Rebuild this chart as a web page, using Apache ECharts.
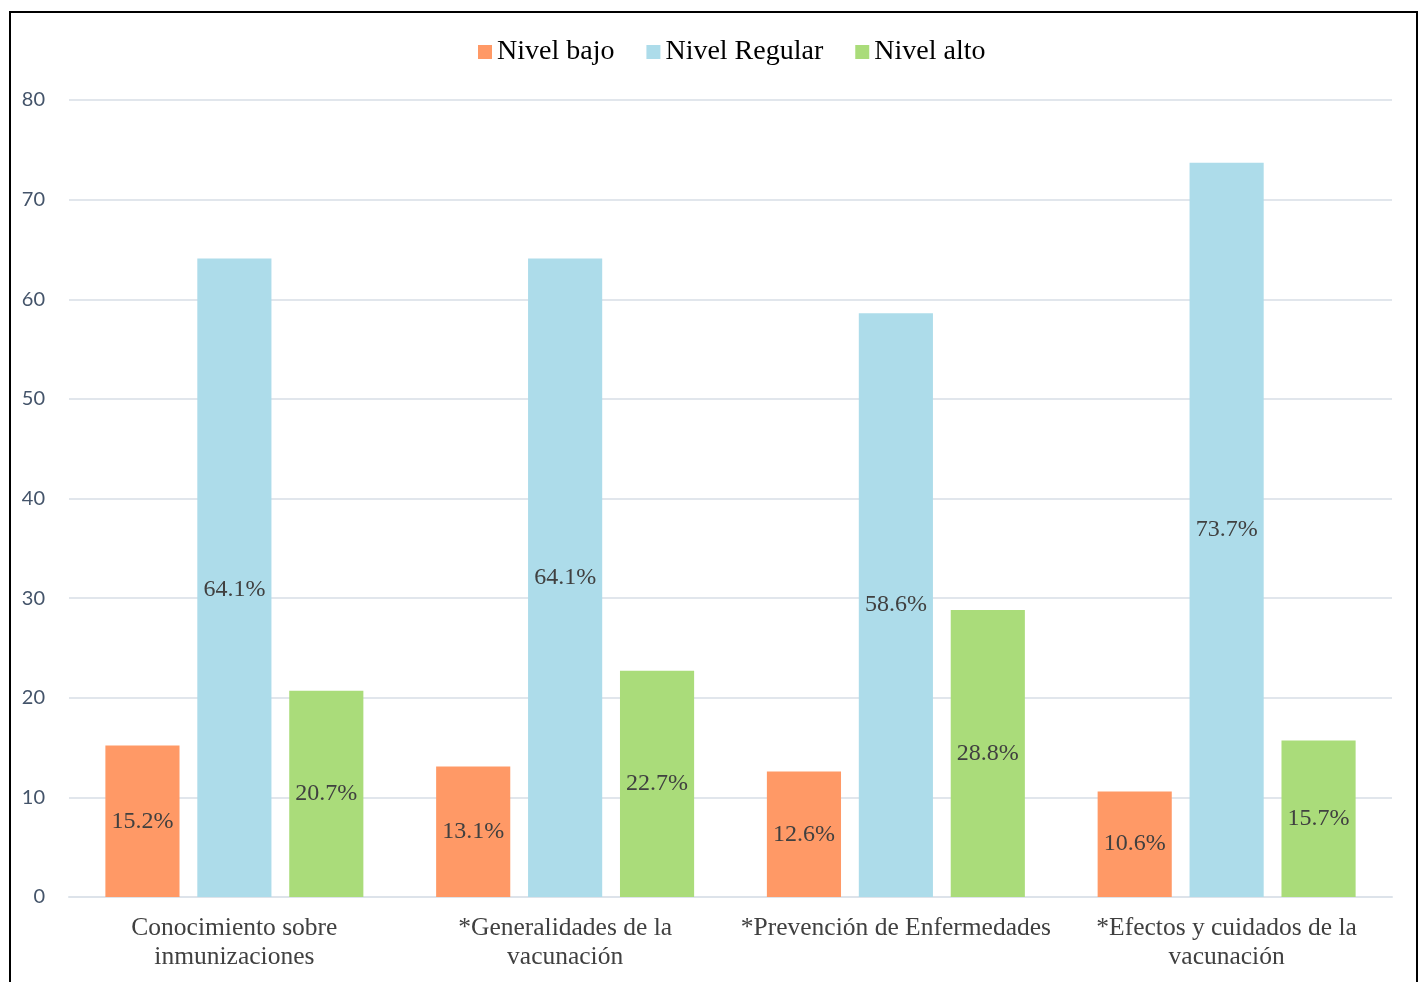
<!DOCTYPE html>
<html>
<head>
<meta charset="utf-8">
<script src="https://cdn.jsdelivr.net/npm/echarts@6/dist/echarts.min.js"></script>
<style>
html,body{margin:0;padding:0;background:#fff;}
#chart{width:1419px;height:982px;}
</style>
</head>
<body>
<div id="chart"></div>
<script>
const categories = ['Conocimiento sobre\ninmunizaciones', '*Generalidades de la\nvacunación', '*Prevención de Enfermedades', '*Efectos y cuidados de la\nvacunación'];
const seriesNames = ['Nivel bajo', 'Nivel Regular', 'Nivel alto'];
const nivelBajo = [15.2, 13.1, 12.6, 10.6];
const nivelRegular = [64.1, 64.1, 58.6, 73.7];
const nivelAlto = [20.7, 22.7, 28.8, 15.7];
const yTicks = [0, 10, 20, 30, 40, 50, 60, 70, 80];
const colors = ['#FF9966', '#ADDCEA', '#AADC7A'];

const chart = echarts.init(document.getElementById('chart'));
const serif = '"Liberation Serif", "Times New Roman", serif';
const labelStyle = {
  show: true,
  position: 'inside',
  formatter: '{c}%',
  fontFamily: serif,
  fontSize: 24,
  color: '#404040'
};
function mk(name, data, color, idx) {
  return {
    name: name,
    type: 'bar',
    data: data.map((v, i) => {
      const d = { value: v };
      if (idx === 1 && i === 0) d.label = { offset: [0, 12] };
      return d;
    }),
    itemStyle: { color: color },
    barGap: '24%',
    barCategoryGap: '22%',
    label: labelStyle
  };
}
chart.setOption({
  animation: false,
  color: colors,
  graphic: [{
    type: 'rect',
    shape: { x: 10, y: 12, width: 1407, height: 1000 },
    style: { fill: 'none', stroke: '#000', lineWidth: 2 },
    silent: true
  }],
  legend: {
    top: 33,
    left: 473,
    itemWidth: 14,
    itemHeight: 14,
    itemGap: 32,
    icon: 'rect',
    textStyle: { fontFamily: serif, fontSize: 28, color: '#000' },
    data: seriesNames
  },
  grid: { left: 69, right: 27, top: 100, bottom: 85, containLabel: false },
  xAxis: {
    type: 'category',
    data: categories,
    axisTick: { show: false },
    axisLine: { show: true, lineStyle: { color: '#DDE3EA', width: 2 } },
    axisLabel: {
      fontFamily: serif,
      fontSize: 25.5,
      color: '#404040',
      lineHeight: 29,
      margin: 17,
      interval: 0
    }
  },
  yAxis: {
    type: 'value',
    min: yTicks[0],
    max: yTicks[yTicks.length - 1],
    interval: 10,
    axisLine: { show: false },
    axisTick: { show: false },
    splitLine: { lineStyle: { color: '#E1E6EC', width: 2 } },
    axisLabel: {
      fontFamily: 'Lato, "Open Sans", sans-serif',
      fontSize: 20,
      color: '#44546A',
      margin: 24
    }
  },
  series: [
    mk(seriesNames[0], nivelBajo, colors[0], 0),
    mk(seriesNames[1], nivelRegular, colors[1], 1),
    mk(seriesNames[2], nivelAlto, colors[2], 2)
  ]
});
</script>
</body>
</html>
